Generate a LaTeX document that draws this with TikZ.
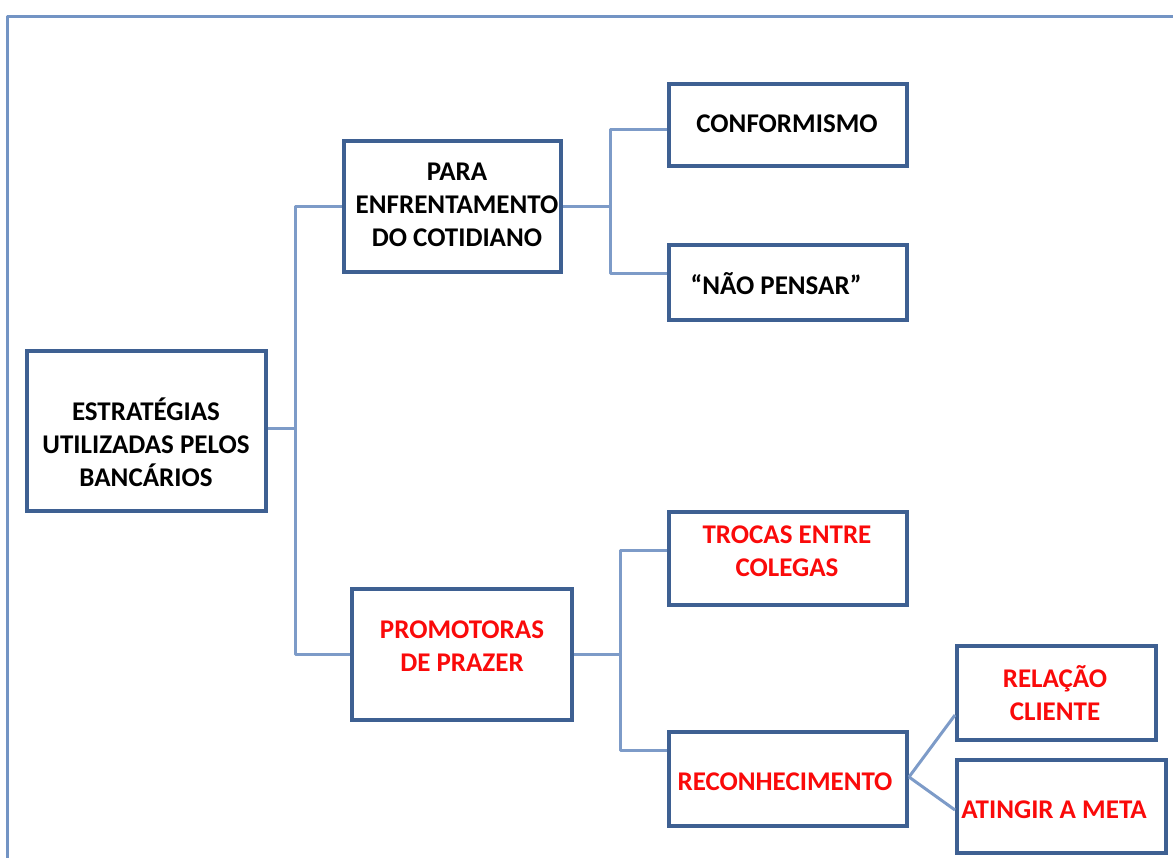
\documentclass[tikz,border=0pt]{standalone}
\usepackage{fontspec}
\setmainfont{Carlito}
\usetikzlibrary{calc}
\definecolor{boxblue}{RGB}{62,96,146}
\definecolor{connblue}{RGB}{125,155,200}
\definecolor{frameblue}{RGB}{115,148,196}
\definecolor{txtred}{RGB}{250,10,10}
\tikzset{
  box/.style={draw=boxblue, line width=4pt, fill=white, inner sep=0pt, rectangle},
  lbl/.style={align=center, inner sep=0pt, font=\bfseries\fontsize{27}{33}\selectfont},
  redlbl/.style={lbl, text=txtred},
  conn/.style={draw=connblue, line width=3pt, line join=round},
  frameline/.style={draw=frameblue, line width=3pt, line join=round}
}
\begin{document}
\begin{tikzpicture}[x=1pt,y=-1pt]
\useasboundingbox (0,0) rectangle (1173,857);
\draw[frameline] (1175,16) -- (7,16) -- (7,860);

% boxes
\node[box, minimum width=239pt, minimum height=160pt] (root) at (146.5,431) {};
\node[box, minimum width=217pt, minimum height=131pt] (para) at (452.5,206.5) {};
\node[box, minimum width=238pt, minimum height=82pt] (conf) at (788,125) {};
\node[box, minimum width=238pt, minimum height=75pt] (nao) at (788,282.5) {};
\node[box, minimum width=220pt, minimum height=131pt] (prom) at (462,654.5) {};
\node[box, minimum width=238pt, minimum height=93pt] (troc) at (788,558.5) {};
\node[box, minimum width=238pt, minimum height=94pt] (reco) at (788,779) {};
\node[box, minimum width=199pt, minimum height=94pt] (rela) at (1056.5,693) {};
\node[box, minimum width=209pt, minimum height=93pt] (ating) at (1061.5,806.5) {};

% texts
\node[lbl] (trootl) at (146,442) {ESTRATÉGIAS\\UTILIZADAS PELOS\\BANCÁRIOS};
\node[lbl] (tpara) at (457,205) {PARA\\ENFRENTAMENTO\\DO COTIDIANO};
\node[lbl] (tconf) at (787,124) {CONFORMISMO};
\node[lbl] (tnao) at (776,284) {“NÃO PENSAR”};
\node[redlbl] (tprom) at (462,646) {PROMOTORAS\\DE PRAZER};
\node[redlbl] (ttroc) at (787,551) {TROCAS ENTRE\\COLEGAS};
\node[redlbl] (treco) at (785,782) {RECONHECIMENTO};
\node[redlbl] (trela) at (1055,693) {RELAÇÃO\\CLIENTE};
\node[redlbl] (tating) at (1054,810) {ATINGIR A META};

% junctions
\coordinate (j1) at (295,428);
\coordinate (j2) at (610,206.5);
\coordinate (j3) at (620,654.5);

\draw[conn] ([yshift=3pt]root.east) -- (j1);
\draw[conn] (para.west) -| (j1);
\draw[conn] (prom.west) -| (j1);
\draw[conn] (para.east) -- (j2);
\draw[conn] ([yshift=-4pt]conf.west) -| (j2);
\draw[conn] ([yshift=9.5pt]nao.west) -| (j2);
\draw[conn] (prom.east) -- (j3);
\draw[conn] ([yshift=8.5pt]troc.west) -| (j3);
\draw[conn] ([yshift=29pt]reco.west) -| (j3);
\draw[conn] ([yshift=2pt]reco.east) -- ([yshift=-22pt]rela.west);
\draw[conn] ([yshift=2pt]reco.east) -- ([yshift=-3.5pt]ating.west);
\end{tikzpicture}
\end{document}
